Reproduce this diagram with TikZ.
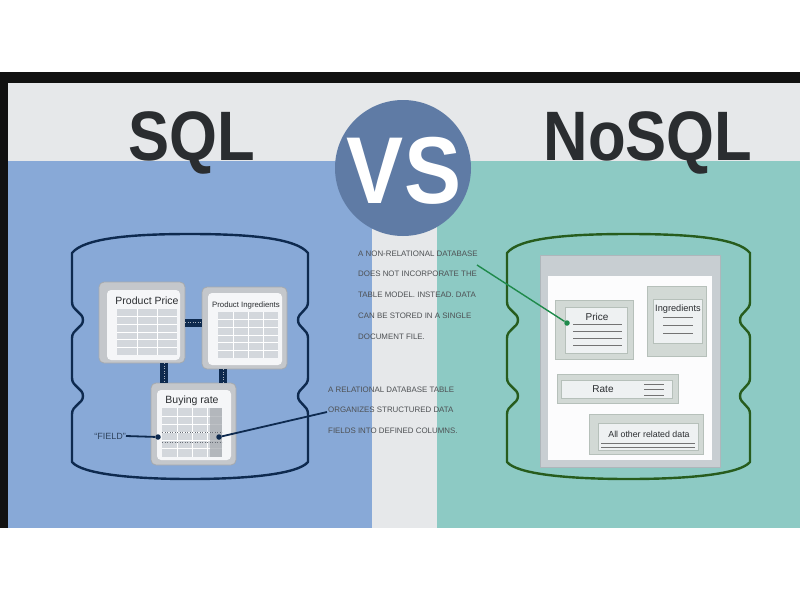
\documentclass[tikz,border=0pt]{standalone}
\usepackage{fontspec}
\setmainfont{Liberation Sans}

\definecolor{frame}{HTML}{111111}
\definecolor{paper}{HTML}{E6E8EA}
\definecolor{sqlblue}{HTML}{88A9D7}
\definecolor{nosqlteal}{HTML}{8DCAC4}
\definecolor{navy}{HTML}{0E2A4F}
\definecolor{dkgreen}{HTML}{275C1D}
\definecolor{vsblue}{HTML}{5F7BA5}
\definecolor{titlegray}{HTML}{2A2D30}
\definecolor{notegray}{HTML}{4E5154}
\definecolor{boxgray}{HTML}{C4C7CB}
\definecolor{boxedge}{HTML}{A5A9AE}
\definecolor{panewhite}{HTML}{F5F6F8}
\definecolor{cellgray}{HTML}{D3D7DC}
\definecolor{colgray}{HTML}{A9ADB2}
\definecolor{docgray}{HTML}{C8CED2}
\definecolor{docedge}{HTML}{AEB6BB}
\definecolor{nboxgray}{HTML}{D2D9D5}
\definecolor{nboxedge}{HTML}{B6C0BA}
\definecolor{npanegray}{HTML}{EEF1F2}
\definecolor{linkgreen}{HTML}{1F8A4B}

\tikzset{
  title/.style={text=titlegray, font=\fontsize{70}{70}\selectfont\bfseries, inner sep=0pt},
  vstext/.style={text=white, font=\fontsize{95}{95}\selectfont\bfseries, inner sep=0pt},
  tblbox/.style={draw=boxedge, fill=boxgray, line width=0.8pt, rounded corners=5pt, inner sep=0pt, outer sep=0pt},
  tblpane/.style={fill=panewhite, rounded corners=4pt, inner sep=0pt, outer sep=0pt},
  boxtitle/.style={text=titlegray, font=\fontsize{10.5}{11}\selectfont, inner sep=0pt},
  linkbar/.style={navy, line width=8pt, postaction={draw=white!65!navy, line width=0.6pt, dash pattern=on 1pt off 1.5pt}},
  navyline/.style={navy, line width=1.8pt},
  greenline/.style={linkgreen, line width=1.4pt},
  dotmark/.style={circle, fill=navy, minimum size=5.5pt, inner sep=0pt},
  dotgreen/.style={circle, fill=linkgreen, minimum size=5.5pt, inner sep=0pt},
  fieldrow/.style={draw=gray!80!navy, line width=0.5pt, dotted},
  note/.style={text=notegray, font=\fontsize{7.9}{20.7}\selectfont, align=left, inner sep=0pt},
  docsheet/.style={draw=docedge, fill=docgray, line width=0.8pt, inner sep=0pt},
  nbox/.style={draw=nboxedge, fill=nboxgray, line width=0.8pt, inner sep=0pt, outer sep=0pt},
  npane/.style={draw=nboxedge, fill=npanegray, line width=0.6pt, inner sep=0pt, outer sep=0pt},
  ntitle/.style={text=titlegray, font=\fontsize{10}{11}\selectfont, inner sep=0pt},
  docline/.style={draw=gray!90!black, line width=0.6pt},
}

% table with light cells: x0 y0 x1 y1 columns rows
\newcommand{\gridtable}[6]{%
  \fill[cellgray] (#1,#2) rectangle (#3,#4);
  \pgfmathtruncatemacro\gtc{#5-1}
  \pgfmathtruncatemacro\gtr{#6-1}
  \foreach \k in {1,...,\gtc} \draw[white, line width=0.7pt] ({#1+\k*(#3-#1)/#5},#2) -- ({#1+\k*(#3-#1)/#5},#4);
  \foreach \k in {1,...,\gtr} \draw[white, line width=0.7pt] (#1,{#2+\k*(#4-#2)/#6}) -- (#3,{#2+\k*(#4-#2)/#6});
}

% database drum outline: left x, right x, colour
\newcommand{\dbdrum}[3]{%
  \draw[#3, line width=2.4pt, line join=round]
    (#1,253) .. controls (#1+12,238) and (#1+60,234) .. ({(#1+#2)/2},234)
    .. controls (#2-60,234) and (#2-12,238) .. (#2,253)
    -- (#2,302) .. controls (#2,311) and (#2-10,312) .. (#2-10,320)
    .. controls (#2-10,328) and (#2,329) .. (#2,338)
    -- (#2,378) .. controls (#2,387) and (#2-10,388) .. (#2-10,396)
    .. controls (#2-10,404) and (#2,405) .. (#2,414)
    -- (#2,462) .. controls (#2-10,474) and (#2-60,479) .. ({(#1+#2)/2},479)
    .. controls (#1+60,479) and (#1+10,474) .. (#1,462)
    -- (#1,414) .. controls (#1,405) and (#1+11,404) .. (#1+11,396)
    .. controls (#1+11,388) and (#1,387) .. (#1,378)
    -- (#1,338) .. controls (#1,329) and (#1+11,328) .. (#1+11,320)
    .. controls (#1+11,312) and (#1,311) .. (#1,302) -- cycle;
}

\begin{document}
\begin{tikzpicture}[x=1pt,y=-1pt]
  % Background
  \useasboundingbox (0,0) rectangle (800,600);
  \fill[white] (0,0) rectangle (800,600);
  \fill[frame] (0,72) rectangle (800,83);
  \fill[frame] (0,83) rectangle (8,528);
  \fill[paper] (8,83) rectangle (800,528);
  \fill[sqlblue] (8,161) rectangle (372,528);
  \fill[nosqlteal] (437,161) rectangle (800,528);

  % Titles
  \node[title, anchor=base] (sql) at (192,160) {\scalebox{0.88}[1]{SQL}};
  \node[title, anchor=base] (nosql) at (648,160) {\scalebox{0.88}[1]{NoSQL}};
  \node[circle, fill=vsblue, minimum size=136pt, inner sep=0pt] (vs) at (403,168) {};
  \node[vstext, anchor=base] (vslabel) at (404,203) {\scalebox{0.9}[1]{VS}};

  % Drums
  \dbdrum{72}{308}{navy}
  \dbdrum{507}{750}{dkgreen}

  % SQL tables
  \node[tblbox, minimum width=86pt, minimum height=81pt] (pp) at (142,322.5) {};
  \node[tblpane, minimum width=73pt, minimum height=70pt] (pppane) at (143.5,325) {};
  \node[boxtitle] (pptitle) at (147,301) {Product Price};
  \gridtable{117}{309}{177}{355}{3}{6}

  \node[tblbox, minimum width=85pt, minimum height=82pt] (pi) at (244.5,328) {};
  \node[tblpane, minimum width=74pt, minimum height=72pt] (pipane) at (245,329) {};
  \node[boxtitle, font=\fontsize{7.8}{8}\selectfont] (pititle) at (246,305) {Product Ingredients};
  \gridtable{218}{312}{278}{358}{4}{6}

  \node[tblbox, minimum width=85pt, minimum height=82pt] (br) at (193.5,424) {};
  \node[tblpane, minimum width=74pt, minimum height=70pt] (brpane) at (194,425) {};
  \node[boxtitle] (brtitle) at (192,401) {Buying rate};
  \gridtable{162}{408}{222}{457}{4}{6}
  \fill[colgray, fill opacity=0.75] (210,408) rectangle (222,457);
  \draw[fieldrow] (162,432) -- (222,432);
  \draw[fieldrow] (162,442) -- (222,442);

  % Links
  \draw[linkbar] (pp.east) -- (pp.east -| pi.west);
  \draw[linkbar] ([xshift=22pt]pp.south) -- ([xshift=22pt]pp.south |- br.north);
  \draw[linkbar] ([xshift=-21.5pt]pi.south) -- ([xshift=-21.5pt]pi.south |- br.north);

  % Field callouts
  \node[dotmark] (fd) at (158,437) {};
  \node[dotmark] (cd) at (219,437) {};
  \node[text=navy!70!gray, font=\fontsize{9}{10}\selectfont, inner sep=0pt, anchor=east] (field) at (126,436) {“FIELD”};
  \draw[navyline] (field.east) -- (fd);
  \node[note, anchor=north west] (relnote) at (328,386.5) {A RELATIONAL DATABASE TABLE\\ORGANIZES STRUCTURED DATA\\FIELDS INTO DEFINED COLUMNS.};
  \coordinate (reltip) at (327,412);
  \draw[navyline] (cd) -- (reltip);

  % NoSQL document
  \node[docsheet, minimum width=180pt, minimum height=212pt] (doc) at (630,361) {};
  \node[fill=white!70!panewhite, minimum width=164pt, minimum height=184pt, inner sep=0pt] (docpage) at (630,368) {};

  \node[nbox, minimum width=78pt, minimum height=59pt] (prc) at (594,329.5) {};
  \node[npane, minimum width=62pt, minimum height=46pt] (prcpane) at (596,330) {};
  \node[ntitle] (prctitle) at (597,317) {Price};
  \foreach \y in {324,331,338,345} \draw[docline] (573,\y) -- (622,\y);

  \node[nbox, minimum width=59pt, minimum height=70pt] (ing) at (676.5,321) {};
  \node[npane, minimum width=49pt, minimum height=44pt] (ingpane) at (677.5,321) {};
  \node[ntitle, font=\fontsize{9.2}{10}\selectfont] (ingtitle) at (678,309) {Ingredients};
  \foreach \y in {317,325,333} \draw[docline] (663,\y) -- (693,\y);

  \node[nbox, minimum width=121pt, minimum height=29pt] (rate) at (617.5,388.5) {};
  \node[npane, minimum width=111pt, minimum height=18pt] (ratepane) at (616.5,389) {};
  \node[ntitle] (ratetitle) at (603,389) {Rate};
  \foreach \y in {384,389,395} \draw[docline] (644,\y) -- (664,\y);

  \node[nbox, minimum width=114pt, minimum height=40pt] (alld) at (646,434) {};
  \node[npane, minimum width=100pt, minimum height=27pt] (allpane) at (648,436.5) {};
  \node[ntitle, font=\fontsize{8.8}{9}\selectfont] (alltitle) at (649,434) {All other related data};
  \foreach \y in {443,447} \draw[docline] (601,\y) -- (695,\y);

  % Document callout
  \node[dotgreen] (pd) at (567,323) {};
  \node[note, anchor=north west] (nrnote) at (358,250.5) {A NON-RELATIONAL DATABASE\\DOES NOT INCORPORATE THE\\TABLE MODEL. INSTEAD. DATA\\CAN BE STORED IN A SINGLE\\DOCUMENT FILE.};
  \coordinate (nrtip) at (477,265);
  \draw[greenline] (nrtip) -- (pd);
\end{tikzpicture}
\end{document}
